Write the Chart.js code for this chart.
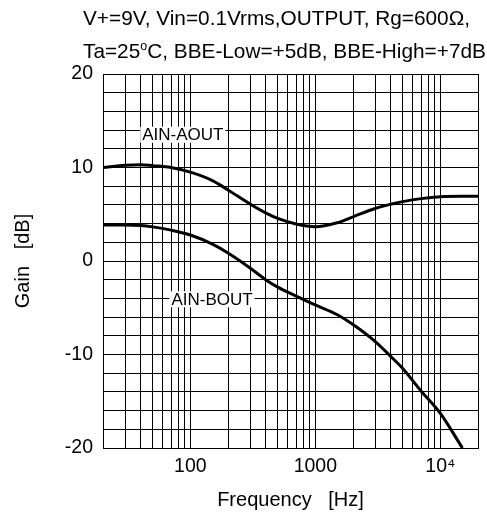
<!DOCTYPE html>
<html><head><meta charset="utf-8">
<script src="https://cdn.jsdelivr.net/npm/chart.js@4/dist/chart.umd.min.js"></script>
<style>html,body{margin:0;padding:0;background:#fff;}#wrap{width:487px;height:512px;position:relative;}</style>
</head><body><div id="wrap"><canvas id="c" width="487" height="512"></canvas></div>
<script>
// ---- data ----
const frequencies = [20, 30, 40, 50, 70, 100, 150, 200, 300, 400, 500, 700, 1000, 1500, 2000, 3000, 4000, 5000, 7000, 10000, 15000, 20000];
const gainAinAout = [10.0, 10.25, 10.3, 10.2, 10.0, 9.5, 8.6, 7.6, 6.1, 5.15, 4.55, 3.95, 3.66, 4.1, 4.72, 5.62, 6.07, 6.35, 6.67, 6.88, 6.93, 6.93];
const gainAinBout = [3.85, 3.85, 3.8, 3.65, 3.3, 2.78, 1.8, 0.85, -0.75, -2.0, -2.8, -3.75, -4.7, -5.75, -6.8, -8.6, -10.2, -11.5, -13.9, -16.3, -20.0, null];
const seriesNames = ['AIN-AOUT', 'AIN-BOUT'];
const xTickValues = [20,30,40,50,60,70,80,90,100,200,300,400,500,600,700,800,900,1000,2000,3000,4000,5000,6000,7000,8000,9000,10000,20000];
const xTickLabels = {100: '100', 1000: '1000', 10000: '10\u2074'};
const yLabelStep = 10;
const titleLine1 = 'V+=9V, Vin=0.1Vrms,OUTPUT, Rg=600\u03A9,';
const titleLine2Parts = ['Ta=25', 'o', 'C, BBE-Low=+5dB, BBE-High=+7dB'];
const xTitle = 'Frequency   [Hz]';
const yTitle = 'Gain   [dB]';

const FONT = '"Liberation Sans", Arial, sans-serif';

const titlePlugin = {
  id: 'titleLines',
  afterDraw(chart) {
    const ctx = chart.ctx;
    ctx.save();
    ctx.fillStyle = '#000';
    ctx.textBaseline = 'alphabetic';
    ctx.textAlign = 'left';
    ctx.font = '20.8px ' + FONT;
    ctx.fillText(titleLine1, 83, 25);
    let x = 83;
    ctx.fillText(titleLine2Parts[0], x, 57.5);
    x += ctx.measureText(titleLine2Parts[0]).width;
    ctx.font = '12.5px ' + FONT;
    ctx.fillText(titleLine2Parts[1], x, 50);
    x += ctx.measureText(titleLine2Parts[1]).width;
    ctx.font = '20.8px ' + FONT;
    ctx.fillText(titleLine2Parts[2], x, 57.5);
    ctx.restore();
  }
};

const seriesLabelPos = [{f: 87, db: 13.5}, {f: 149, db: -4.1}];
const seriesLabelPlugin = {
  id: 'seriesLabels',
  afterDatasetsDraw(chart) {
    const ctx = chart.ctx;
    const xs = chart.scales.x, ys = chart.scales.y;
    ctx.save();
    ctx.font = '17px ' + FONT;
    ctx.textAlign = 'center';
    ctx.textBaseline = 'middle';
    seriesNames.forEach((name, i) => {
      const px = xs.getPixelForValue(seriesLabelPos[i].f);
      const py = ys.getPixelForValue(seriesLabelPos[i].db);
      const w = ctx.measureText(name).width + 4;
      ctx.fillStyle = '#fff';
      ctx.fillRect(px - w / 2, py - 8, w, 16);
      ctx.fillStyle = '#000';
      ctx.fillText(name, px, py + 1);
    });
    ctx.restore();
  }
};

new Chart(document.getElementById('c'), {
  type: 'line',
  data: {
    labels: frequencies,
    datasets: [
      {label: seriesNames[0], data: frequencies.map((f, i) => ({x: f, y: gainAinAout[i]})), borderColor: '#000', borderWidth: 3, pointRadius: 0, fill: false, cubicInterpolationMode: 'monotone'},
      {label: seriesNames[1], data: frequencies.map((f, i) => ({x: f, y: gainAinBout[i]})), borderColor: '#000', borderWidth: 3, pointRadius: 0, fill: false, cubicInterpolationMode: 'monotone'}
    ]
  },
  options: {
    responsive: false,
    animation: false,
    devicePixelRatio: 1,
    layout: {padding: {top: 74, right: 9, left: 0, bottom: 0}},
    plugins: {legend: {display: false}, tooltip: {enabled: false}, title: {display: false}},
    scales: {
      x: {
        type: 'logarithmic',
        min: 20, max: 20000,
        afterBuildTicks: (s) => { s.ticks = xTickValues.map(v => ({value: v})); },
        afterFit: (s) => { s.height = 64; },
        ticks: {autoSkip: false, maxRotation: 0, minRotation: 0, padding: 7, color: '#000', font: {family: FONT, size: 19.5},
          callback: (v) => xTickLabels[v] !== undefined ? xTickLabels[v] : ''},
        grid: {color: '#000', lineWidth: 1, drawTicks: false},
        border: {color: '#000', width: 1},
        title: {display: true, text: xTitle, color: '#000', font: {family: FONT, size: 20}, padding: {top: 0, bottom: 0}}
      },
      y: {
        type: 'linear',
        min: -20, max: 20,
        afterFit: (s) => { s.width = 103; },
        ticks: {stepSize: 2, autoSkip: false, padding: 10, color: '#000', font: {family: FONT, size: 19.5},
          callback: (v) => (v % yLabelStep === 0 ? String(v) : '')},
        grid: {color: '#000', lineWidth: 1, drawTicks: false},
        border: {color: '#000', width: 1},
        title: {display: true, text: yTitle, color: '#000', font: {family: FONT, size: 20}, padding: {top: 11, bottom: 0}}
      }
    }
  },
  plugins: [titlePlugin, seriesLabelPlugin]
});
</script>
</body></html>
